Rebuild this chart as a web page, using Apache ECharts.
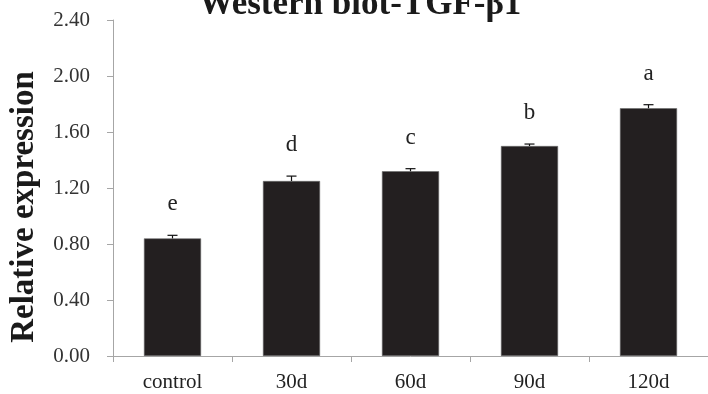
<!DOCTYPE html>
<html>
<head>
<meta charset="utf-8">
<script src="https://cdn.jsdelivr.net/npm/echarts@6/dist/echarts.min.js"></script>
<style>
  html, body { margin: 0; padding: 0; background: #fff; }
  #chart { width: 708px; height: 394px; }
</style>
</head>
<body>
<div id="chart"></div>
<script>
// Groups, mean relative expression, standard error, significance letters
var categories = ['control', '30d', '60d', '90d', '120d'];
var means = [0.84, 1.25, 1.32, 1.50, 1.77];
var errors = [0.022, 0.035, 0.018, 0.014, 0.025];
var letters = ['e', 'd', 'c', 'b', 'a'];
var yTicks = [0, 0.4, 0.8, 1.2, 1.6, 2.0, 2.4];

var serif = '"Liberation Serif", "DejaVu Serif", serif';
var chart = echarts.init(document.getElementById('chart'), null, { renderer: 'canvas' });

var errData = means.map(function (m, i) { return [i, m, errors[i], letters[i]]; });

chart.setOption({
  animation: false,
  title: {
    text: 'Western blot-TGF-β1',
    left: 355,
    textAlign: 'center',
    top: -18,
    textStyle: { fontFamily: serif, fontWeight: 'bold', fontSize: 35, color: '#1a1a1a' }
  },
  grid: { left: 111, right: -2, top: 20, bottom: 38 },
  xAxis: {
    type: 'category',
    data: categories,
    axisLine: { lineStyle: { color: '#a6a6a6', width: 1 } },
    axisTick: { show: true, alignWithLabel: false, length: 6, lineStyle: { color: '#a6a6a6' } },
    axisLabel: { fontFamily: serif, fontSize: 21, color: '#222', margin: 16 }
  },
  yAxis: {
    type: 'value',
    min: yTicks[0],
    max: yTicks[yTicks.length - 1],
    interval: 0.4,
    name: 'Relative expression',
    nameLocation: 'middle',
    nameGap: 72,
    nameTextStyle: { fontFamily: serif, fontWeight: 'bold', fontSize: 33, color: '#1a1a1a', padding: [0, 38, 0, 0] },
    axisLine: { show: true, lineStyle: { color: '#a6a6a6', width: 1 } },
    axisTick: { show: true, length: 6, lineStyle: { color: '#a6a6a6' } },
    splitLine: { show: false },
    axisLabel: {
      fontFamily: serif, fontSize: 21, color: '#333', margin: 23,
      formatter: function (v) { return v.toFixed(2); }
    }
  },
  series: [
    {
      type: 'bar',
      data: means,
      barWidth: '48%',
      itemStyle: { color: '#231f20', borderColor: '#6b6b6b', borderWidth: 0.6 }
    },
    {
      type: 'custom',
      data: errData,
      z: 5,
      renderItem: function (params, api) {
        var x = api.value(0);
        var m = api.value(1);
        var e = api.value(2);
        var base = api.coord([x, m]);
        var top = api.coord([x, m + e]);
        var cap = 5;
        return {
          type: 'group',
          children: [
            { type: 'line', shape: { x1: base[0], y1: base[1], x2: top[0], y2: top[1] },
              style: { stroke: '#111', lineWidth: 1.2 } },
            { type: 'line', shape: { x1: top[0] - cap, y1: top[1], x2: top[0] + cap, y2: top[1] },
              style: { stroke: '#111', lineWidth: 1.2 } },
            { type: 'text', x: top[0], y: top[1] - 31,
              style: { text: api.value(3), fontFamily: serif, fontSize: 23, fill: '#222',
                       align: 'center', verticalAlign: 'middle' } }
          ]
        };
      }
    }
  ]
});
</script>
</body>
</html>
